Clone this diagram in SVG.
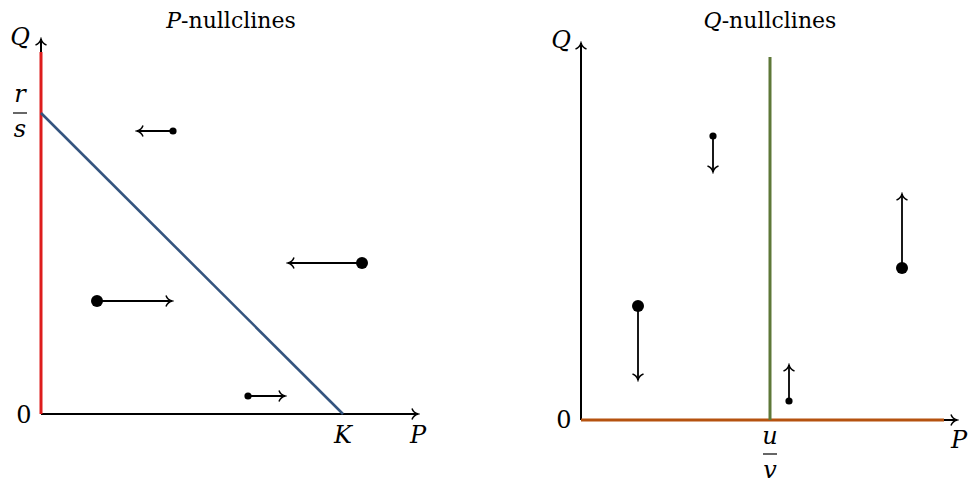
<svg xmlns="http://www.w3.org/2000/svg" width="970" height="483" viewBox="0 0 970 483">
<style>
text{font-family:"DejaVu Serif","Liberation Serif","Times New Roman",serif;font-size:24px;fill:#000}
.t{font-size:22px}
.m{font-style:italic}
.ax{stroke:#000;stroke-width:2;fill:none}
.vec{stroke:#000;stroke-width:1.8;fill:none;marker-end:url(#to)}
.bar{stroke:#000;stroke-width:1.2}
</style>
<defs>
<marker id="to" viewBox="-8 -7 10 14" refX="0" refY="0" markerWidth="10" markerHeight="14" markerUnits="userSpaceOnUse" orient="auto">
<path d="M-6,-5.5 C-5,-2.5 -2,-0.6 0,0 C-2,0.6 -5,2.5 -6,5.5" fill="none" stroke="#000" stroke-width="1.5"/>
</marker>
</defs>
<rect width="970" height="483" fill="#fff"/>
<g id="left-plot">
<text class="t" x="231" y="28" text-anchor="middle"><tspan class="m">P</tspan>-nullclines</text>
<g id="left-axes">
<line class="ax" x1="41" y1="414" x2="41" y2="39" marker-end="url(#to)"/>
<line class="ax" x1="41" y1="414" x2="418" y2="414" marker-end="url(#to)"/>
</g>
<line id="red-nullcline" x1="41" y1="414" x2="41" y2="52" stroke="#dd1c1c" stroke-width="3"/>
<line id="blue-nullcline" x1="41" y1="113" x2="343" y2="414" stroke="#34547f" stroke-width="2.6"/>
<text class="m" x="20" y="45" text-anchor="middle">Q</text>
<text class="m" x="20" y="102" text-anchor="middle">r</text>
<line class="bar" x1="13" y1="113" x2="27" y2="113"/>
<text class="m" x="20" y="137" text-anchor="middle">s</text>
<text x="24" y="423" text-anchor="middle">0</text>
<text class="m" x="343" y="443" text-anchor="middle">K</text>
<text class="m" x="418" y="443" text-anchor="middle">P</text>
<g id="left-vectors">
<line class="vec" x1="173" y1="131" x2="137" y2="131"/><circle cx="173" cy="131" r="3.6"/>
<line class="vec" x1="362" y1="263" x2="288" y2="263"/><circle cx="362" cy="263" r="6"/>
<line class="vec" x1="97" y1="301" x2="172" y2="301"/><circle cx="97" cy="301" r="6"/>
<line class="vec" x1="248" y1="396" x2="285" y2="396"/><circle cx="248" cy="396" r="3.6"/>
</g>
</g>
<g id="right-plot">
<text class="t" x="770" y="28" text-anchor="middle"><tspan class="m">Q</tspan>-nullclines</text>
<g id="right-axes">
<line class="ax" x1="581" y1="420" x2="581" y2="43" marker-end="url(#to)"/>
<line class="ax" x1="581" y1="420" x2="957" y2="420" marker-end="url(#to)"/>
</g>
<line id="orange-nullcline" x1="581" y1="420" x2="944" y2="420" stroke="#b5520f" stroke-width="3"/>
<line id="green-nullcline" x1="770" y1="57" x2="770" y2="420" stroke="#5e7838" stroke-width="3"/>
<text class="m" x="561" y="48" text-anchor="middle">Q</text>
<text x="564" y="428" text-anchor="middle">0</text>
<text class="m" x="770" y="444" text-anchor="middle">u</text>
<line class="bar" x1="763" y1="454" x2="777" y2="454"/>
<text class="m" x="770" y="478" text-anchor="middle">v</text>
<text class="m" x="959" y="448" text-anchor="middle">P</text>
<g id="right-vectors">
<line class="vec" x1="713" y1="136" x2="713" y2="172"/><circle cx="713" cy="136" r="3.6"/>
<line class="vec" x1="902" y1="268" x2="902" y2="194"/><circle cx="902" cy="268" r="6"/>
<line class="vec" x1="638" y1="306" x2="638" y2="380"/><circle cx="638" cy="306" r="6"/>
<line class="vec" x1="789" y1="401" x2="789" y2="365"/><circle cx="789" cy="401" r="3.6"/>
</g>
</g>
</svg>
